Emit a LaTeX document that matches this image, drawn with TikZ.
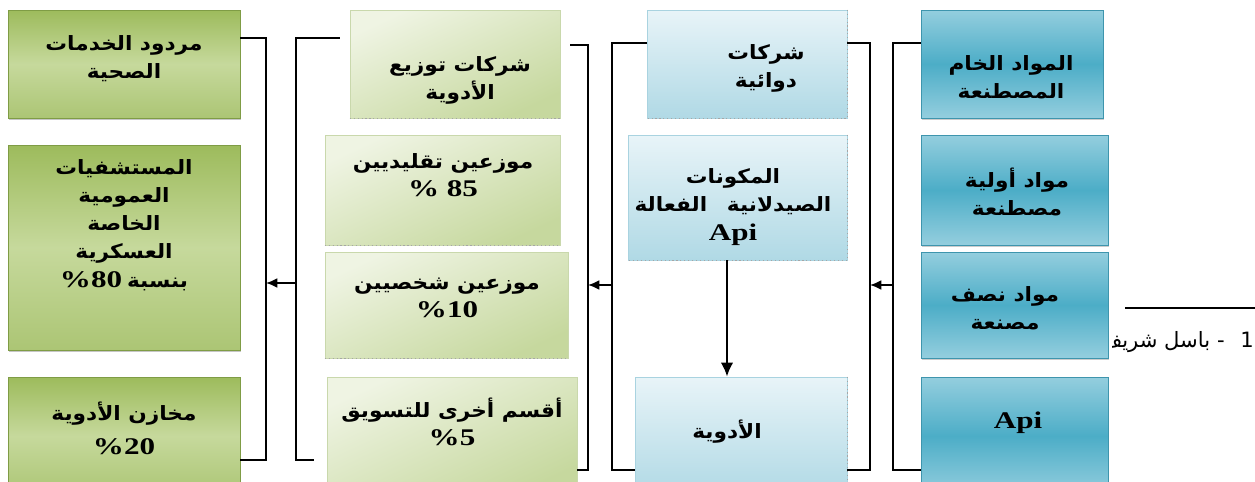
\documentclass[tikz,border=0pt]{standalone}
\usepackage{fontspec}
\setmainfont{Liberation Serif}
\newfontfamily\arabicfont[Script=Arabic,FakeStretch=1.1]{DejaVu Sans}
\newfontfamily\footfont[Script=Arabic]{DejaVu Sans}
\newfontfamily\numfont[FakeStretch=1.3]{Liberation Serif}
\TeXXeTstate=1
\usetikzlibrary{fit,shadows,arrows.meta}

\definecolor{oliveA}{HTML}{9DBB5C}
\definecolor{oliveB}{HTML}{C6D99C}
\definecolor{oliveEdge}{HTML}{7F9C45}
\definecolor{sageA}{HTML}{EFF4E3}
\definecolor{sageB}{HTML}{C6D89E}
\definecolor{sageEdge}{HTML}{C9D8AC}
\definecolor{iceA}{HTML}{E8F4F8}
\definecolor{iceB}{HTML}{B0D9E5}
\definecolor{iceEdge}{HTML}{A9D3E0}
\definecolor{tealA}{HTML}{94CEDE}
\definecolor{tealB}{HTML}{4CADC7}
\definecolor{tealEdge}{HTML}{3E95AD}

\newcommand{\artxt}[1]{{\arabicfont\bfseries\beginR #1\endR}}
\newcommand{\numtxt}[1]{{\fontsize{17}{20}\numfont\bfseries #1}}

\tikzset{
    box/.style={draw, line width=0.4pt, inner sep=0pt},
    oliveBox/.style={box, draw=oliveEdge, top color=oliveA, bottom color=oliveA!85!white, middle color=oliveB,
        drop shadow={shadow xshift=1pt, shadow yshift=-1.2pt, opacity=.45}},
    sageBox/.style={box, draw=sageEdge, top color=sageA, bottom color=sageB, shading angle=25},
    iceBox/.style={box, draw=iceEdge, top color=iceA, bottom color=iceB},
    tealBox/.style={box, draw=tealEdge, top color=tealA, bottom color=tealA, middle color=tealB,
        drop shadow={shadow xshift=1pt, shadow yshift=-1.2pt, opacity=.4}},
    dotline/.style={gray!70, line width=0.8pt, dotted},
    txt/.style={align=center, inner sep=0pt, font=\fontsize{14}{20}\selectfont},
    bline/.style={line width=1.2pt},
    harr/.style={bline, -{Latex[length=8pt,width=7pt]}},
    varr/.style={line width=2pt, -{Latex[length=10pt,width=9pt]}}
}

\begin{document}
\begin{tikzpicture}[x=0.025cm, y=-0.025cm]
\useasboundingbox (0,0) rectangle (1255,481);

% results column
\node[oliveBox, fit={(8,10) (240,118)}] (ret) {};
\node[txt] (retT) at (124,59) {\artxt{مردود الخدمات}\\ \artxt{الصحية}};
\node[oliveBox, fit={(8,145) (240,350)}] (hosp) {};
\node[txt] (hospT) at (124,225) {\artxt{المستشفيات}\\ \artxt{العمومية}\\ \artxt{الخاصة}\\ \artxt{العسكرية}\\ \numtxt{\%80} \artxt{بنسبة}};
\node[oliveBox, fit={(8,377) (240,495)}] (store) {};
\node[txt] (storeT) at (124,428) {\artxt{مخازن الأدوية}\\[4pt] \numtxt{\%20}};

% distribution column
\node[sageBox, fit={(350,10) (560,118)}] (dist) {};
\node[txt] (distT) at (460,80) {\artxt{شركات توزيع}\\ \artxt{الأدوية}};
\node[sageBox, fit={(325,135) (560,245)}] (trad) {};
\node[txt] (tradT) at (443,175) {\artxt{موزعين تقليديين}\\ \numtxt{\% 85}};
\node[sageBox, fit={(325,252) (568,358)}] (pers) {};
\node[txt] (persT) at (447,298) {\artxt{موزعين شخصيين}\\ \numtxt{\%10}};
\node[sageBox, fit={(327,377) (577,495)}] (oth) {};
\node[txt] (othT) at (452,422) {\artxt{أقسم أخرى للتسويق}\\ \numtxt{\%5}};

% pharma column
\node[iceBox, fit={(647,10) (847,118)}] (pharm) {};
\node[txt] (pharmT) at (766,68) {\artxt{شركات}\\ \artxt{دوائية}};
\node[iceBox, fit={(628,135) (847,260)}] (api) {};
\node[txt] (apiT) at (733,207) {\artxt{المكونات}\\ \artxt{الصيدلانية\quad الفعالة}\\ \numtxt{Api}};
\node[iceBox, fit={(635,377) (847,495)}] (drugs) {};
\node[txt] (drugsT) at (727,432) {\artxt{الأدوية}};

\foreach \b in {dist,trad,pers,oth}
    \draw[dotline] (\b.south west) -- (\b.south east);
\foreach \b in {pharm,api,drugs}
    \draw[dotline] (\b.north east) -- (\b.south east) -- (\b.south west);

% raw material column
\node[tealBox, fit={(921,10) (1103,118)}] (raw) {};
\node[txt] (rawT) at (1011,77) {\artxt{المواد الخام}\\ \artxt{المصطنعة}};
\node[tealBox, fit={(921,135) (1108,245)}] (prim) {};
\node[txt] (primT) at (1017,192) {\artxt{مواد أولية}\\ \artxt{مصطنعة}};
\node[tealBox, fit={(921,252) (1108,358)}] (semi) {};
\node[txt] (semiT) at (1005,308) {\artxt{مواد نصف}\\ \artxt{مصنعة}};
\node[tealBox, fit={(921,377) (1108,495)}] (apib) {};
\node[txt] (apibT) at (1018,423) {\numtxt{Api}};

% brackets and arrows
\coordinate (a1) at (266,38);  \coordinate (a2) at (266,460);
\coordinate (b1) at (296,38);  \coordinate (b2) at (296,460);
\coordinate (c1) at (588,45);  \coordinate (c2) at (588,470);
\coordinate (d1) at (612,43);  \coordinate (d2) at (612,470);
\coordinate (e1) at (870,43);  \coordinate (e2) at (870,470);
\coordinate (f1) at (893,43);  \coordinate (f2) at (893,470);
\coordinate (mA) at (0,283);   \coordinate (mB) at (0,285);

\draw[bline] (ret.east |- a1) -- (a1) -- (a2) -- (store.east |- a2);
\draw[bline, shorten <=7pt, shorten >=9pt] (dist.west |- b1) -- (b1) -- (b2) -- (oth.west |- b2);
\draw[harr] (b1 |- mA) -- (a1 |- mA);

\draw[bline, shorten <=7pt] (dist.east |- c1) -- (c1) -- (c2) -- (oth.east |- c2);
\draw[bline] (pharm.west |- d1) -- (d1) -- (d2) -- (drugs.west |- d2);
\draw[harr] (d1 |- mB) -- (c1 |- mB);

\draw[bline] (pharm.east |- e1) -- (e1) -- (e2) -- (drugs.east |- e2);
\draw[bline] (raw.west |- f1) -- (f1) -- (f2) -- (apib.west |- f2);
\draw[harr] (f1 |- mB) -- (e1 |- mB);

\draw[varr] (api.south -| drugsT) -- (drugs.north -| drugsT);

% footnote
\coordinate (fn1) at (1125,308); \coordinate (fn2) at (1255,308);
\draw[line width=1pt] (fn1) -- (fn2);
\begin{scope}
    \clip (1112,320) rectangle (1255,370);
    \node[anchor=east, inner sep=0pt, font=\fontsize{15}{18}\footfont] (fnote) at (1254,342) {\beginR 1\kern11pt-\kern5pt باسل شريف\endR};
\end{scope}
\end{tikzpicture}
\end{document}
